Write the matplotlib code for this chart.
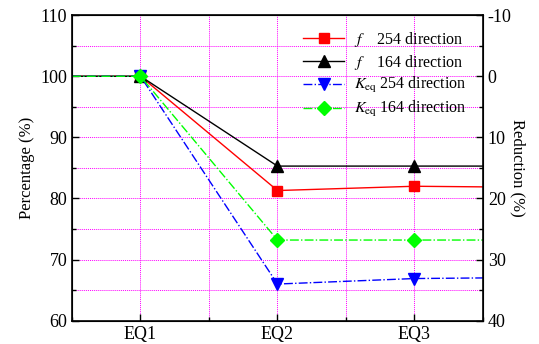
import matplotlib.pyplot as plt
from matplotlib.ticker import MultipleLocator

plt.rcParams["font.family"] = "Liberation Serif"
plt.rcParams["mathtext.fontset"] = "stix"
plt.rcParams["axes.unicode_minus"] = False

labels = ["EQ1", "EQ2", "EQ3"]
# x positions incl. the plot edges (lines run to the frame)
xs = [0.5, 1, 2, 3, 3.5]
f_254 = [100, 100, 81.3, 82.0, 81.9]
f_164 = [100, 100, 85.3, 85.3, 85.3]
k_254 = [100, 100, 66.0, 66.9, 67.0]
k_164 = [100, 100, 73.2, 73.2, 73.2]

fig = plt.figure(figsize=(5.39, 3.44), dpi=100)
ax = fig.add_axes([0.1336, 0.0677, 0.7624, 0.8883])

mk = [1, 2, 3]
ax.plot(xs, f_254, color="#ff0000", lw=1, marker="s", ms=7, markevery=mk,
        label=r"$f$    254 direction")
ax.plot(xs, f_164, color="black", lw=1, marker="^", ms=8, markevery=mk,
        label=r"$f$    164 direction")
ax.plot(xs, k_254, color="#0000ff", lw=1, ls="-.", marker="v", ms=8, markevery=mk,
        label=r"$K_{\rm eq}$ 254 direction")
ax.plot(xs, k_164, color="#00ff00", lw=1, ls="-.", marker="D", ms=7, markevery=mk,
        label=r"$K_{\rm eq}$ 164 direction")

ax.set_xlim(0.5, 3.5)
ax.set_ylim(60, 110)
ax.set_xticks([1, 2, 3])
ax.set_xticklabels(labels)
ax.xaxis.set_minor_locator(MultipleLocator(0.5))
ax.yaxis.set_major_locator(MultipleLocator(10))
ax.yaxis.set_minor_locator(MultipleLocator(5))
ax.grid(True, which="both", color="magenta", ls=(0, (1, 1)), lw=0.7)
ax.set_axisbelow(True)
ax.tick_params(which="both", direction="in", labelsize=13, width=1)
ax.tick_params(which="major", length=5)
ax.tick_params(which="minor", length=3)
for s in ax.spines.values():
    s.set_linewidth(1.2)
ax.set_ylabel("Percentage (%)", fontsize=12, labelpad=4)

ax2 = ax.twinx()
ax2.set_ylim(40, -10)
ax2.yaxis.set_major_locator(MultipleLocator(10))
ax2.yaxis.set_minor_locator(MultipleLocator(5))
ax2.tick_params(which="both", direction="in", labelsize=13, width=1)
ax2.tick_params(which="major", length=5)
ax2.tick_params(which="minor", length=3)
ax2.set_ylabel("Reduction (%)", fontsize=12, rotation=270, labelpad=10)

ax.legend(loc="upper right", bbox_to_anchor=(0.995, 1.0), frameon=False,
          fontsize=11.5, handlelength=2.6, labelspacing=0.25, handletextpad=0.6)

fig.savefig("out.png", dpi=100)
